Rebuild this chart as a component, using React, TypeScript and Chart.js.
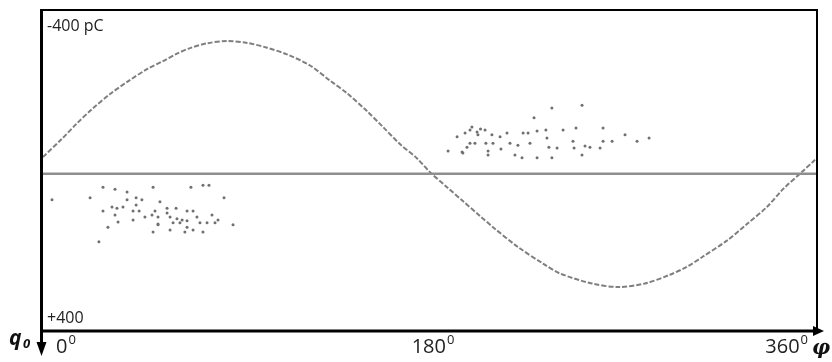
import { useEffect, useRef } from "react";
import { Chart, registerables } from "chart.js";

Chart.register(...registerables);

// Phase (degrees) and apparent charge (pC)
const wavePhase = [0, 8.8, 15.8, 22.8, 31.2, 39.5, 48.8, 55.8, 62.3, 68.4, 76.3, 85.6, 94.9, 104.2, 113.5, 124.2, 133.5, 141.4, 150.7, 158.1, 166.0, 173.9, 180, 187.9, 195.3, 203.3, 209.3, 220.9, 232.6, 240.5, 255.3, 267.4, 280, 291.6, 299.5, 307, 318.1, 327.4, 336.7, 344.2, 353.5, 359.1];
const waveCharge = [-39, -85, -124, -160, -198, -230, -262, -281, -300, -314, -326, -332, -327, -315, -298, -270, -232, -200, -155, -115, -72, -36, -1, 37, 72, 110, 138, 188, 230, 255, 280, 289, 280, 258, 238, 212, 172, 130, 87, 42, -4, -32];

// Zero reference line
const zeroPhase = [0, 360];
const zeroCharge = [3, 3];

// Discharge pulses in the positive half (plotted below the line)
const clusterAPhase = [4.2, 21.9, 27.9, 33.5, 39.1, 51.2, 68.8, 74.4, 77.2, 84.2, 39.1, 43.3, 46, 43.3, 54.4, 27.9, 32.1, 34.4, 37.2, 41.9, 44.7, 52.1, 57.7, 61.9, 67, 69.8, 57.7, 33.5, 47.4, 50.7, 53.5, 59.1, 62.3, 64.7, 67, 71.6, 78.6, 34.9, 41.9, 53.5, 60.5, 63.7, 73, 76.3, 80, 81.4, 88.4, 30.2, 53.5, 67, 59.1, 51.2, 69.8, 74.4, 66, 26];
const clusterACharge = [69, 64, 37, 42, 49, 37, 37, 32, 32, 64, 69, 64, 69, 82, 74, 97, 87, 90, 87, 97, 97, 97, 90, 90, 97, 97, 102, 107, 112, 107, 112, 112, 117, 120, 122, 112, 107, 125, 120, 130, 127, 127, 127, 127, 127, 120, 132, 138, 132, 138, 145, 150, 145, 150, 150, 175];

// Discharge pulses in the negative half (plotted above the line)
const clusterBPhase = [236.7, 250.7, 228.4, 192.6, 196.3, 198.6, 201.9, 202.3, 205.6, 208.8, 215.8, 223.3, 225.6, 229.8, 233.9, 241.9, 247.9, 260.5, 270.7, 281.9, 188.4, 194.9, 197.2, 198.6, 200.9, 206, 209.3, 212.6, 217.2, 220.9, 226.5, 234.4, 235.3, 239.1, 246.5, 252.1, 254.4, 259.1, 260.5, 264.7, 276.3, 207, 213, 247, 195.3, 207, 219.5, 222.8, 229.8, 236.7, 250.7, 199.5, 203.5];
const clusterBCharge = [-163, -170, -138, -90, -100, -107, -102, -95, -107, -95, -100, -100, -100, -105, -107, -107, -112, -112, -95, -87, -54, -52, -64, -74, -74, -74, -74, -90, -74, -69, -74, -87, -64, -62, -79, -67, -64, -62, -79, -79, -79, -54, -59, -62, -49, -44, -44, -37, -37, -37, -44, -115, -110];

// Text labels
const xTickValues = [0, 180, 360];
const xTickLabels = ["0", "180", "360"];
const yTopLabel = "-400 pC";
const yBottomLabel = "+400";
const xAxisName = "φ";
const yAxisName = "q";

const toPoints = (xs: number[], ys: number[]) => xs.map((x, i) => ({ x, y: ys[i] }));

const framePlugin = {
  id: "frame",
  afterDraw(chart: any) {
    const ctx = chart.ctx as CanvasRenderingContext2D;
    const xs = chart.scales.x;
    ctx.save();
    ctx.fillStyle = "#000";
    // top and right border
    ctx.fillRect(40, 9, 778, 2);
    ctx.fillRect(816, 9, 2, 322);
    // left axis with arrow
    ctx.fillRect(40, 9, 3, 335);
    ctx.beginPath();
    ctx.moveTo(36.5, 342);
    ctx.lineTo(46.5, 342);
    ctx.lineTo(41.5, 356);
    ctx.closePath();
    ctx.fill();
    // bottom axis with arrow
    ctx.fillRect(40, 329.5, 776, 3);
    ctx.beginPath();
    ctx.moveTo(813, 326);
    ctx.lineTo(813, 336);
    ctx.lineTo(824, 331);
    ctx.closePath();
    ctx.fill();

    // corner labels
    ctx.fillStyle = "#222";
    ctx.font = "16px 'Open Sans', sans-serif";
    ctx.textBaseline = "alphabetic";
    ctx.textAlign = "left";
    ctx.fillText(yTopLabel, 47, 31);
    ctx.fillText(yBottomLabel, 47, 323);

    // x tick labels with superscript zero
    const drawTick = (label: string, px: number, align: string) => {
      ctx.font = "20px 'Open Sans', sans-serif";
      const w = ctx.measureText(label).width;
      ctx.font = "13px 'Open Sans', sans-serif";
      const sw = ctx.measureText("0").width;
      const total = w + 1 + sw;
      let left = px;
      if (align === "center") left = px - total / 2;
      if (align === "right") left = px - total;
      ctx.textAlign = "left";
      ctx.font = "20px 'Open Sans', sans-serif";
      ctx.fillText(label, left, 353);
      ctx.font = "13px 'Open Sans', sans-serif";
      ctx.fillText("0", left + w + 1, 344);
    };
    xTickValues.forEach((v, i) => {
      const px = xs.getPixelForValue(v);
      if (i === 0) drawTick(xTickLabels[i], px + 13, "left");
      else if (i === xTickLabels.length - 1) drawTick(xTickLabels[i], px - 9, "right");
      else drawTick(xTickLabels[i], px + 3, "center");
    });

    // axis names
    ctx.fillStyle = "#111";
    ctx.font = "italic bold 20px 'DejaVu Serif', serif";
    ctx.textAlign = "left";
    ctx.fillText(xAxisName, 812, 354);
    ctx.font = "italic bold 21px 'Open Sans', sans-serif";
    ctx.fillText(yAxisName, 9, 345);
    ctx.font = "italic bold 13px 'Open Sans', sans-serif";
    ctx.fillText("0", 23, 348);
    ctx.restore();
  },
};

export default function App() {
  const ref = useRef<HTMLCanvasElement | null>(null);
  useEffect(() => {
    if (!ref.current) return;
    const chart = new Chart(ref.current, {
      type: "scatter",
      data: {
        datasets: [
          {
            type: "line",
            data: toPoints(zeroPhase, zeroCharge),
            borderColor: "#8f8f8f",
            borderWidth: 2.5,
            pointRadius: 0,
          },
          {
            type: "line",
            data: toPoints(wavePhase, waveCharge),
            borderColor: "#7f7f7f",
            borderWidth: 2,
            borderDash: [5, 2],
            pointRadius: 0,
            tension: 0.3,
          },
          {
            data: toPoints(clusterAPhase, clusterACharge),
            backgroundColor: "#707070",
            borderWidth: 0,
            pointRadius: 1.5,
          },
          {
            data: toPoints(clusterBPhase, clusterBCharge),
            backgroundColor: "#707070",
            borderWidth: 0,
            pointRadius: 1.5,
          },
        ],
      } as any,
      options: {
        animation: false,
        responsive: false,
        layout: { padding: { left: 43, right: 15, top: 14, bottom: 31 } },
        plugins: { legend: { display: false }, tooltip: { enabled: false } },
        scales: {
          x: { type: "linear", min: 0, max: 360, display: false },
          y: { type: "linear", min: -400, max: 400, reverse: true, display: false },
        },
      },
      plugins: [framePlugin],
    });
    return () => chart.destroy();
  }, []);
  return (
    <div style={{ position: "fixed", left: 0, top: 0, width: 832, height: 362, background: "#fff" }}>
      <canvas ref={ref} width={832} height={362} style={{ width: 832, height: 362, display: "block" }} />
    </div>
  );
}
